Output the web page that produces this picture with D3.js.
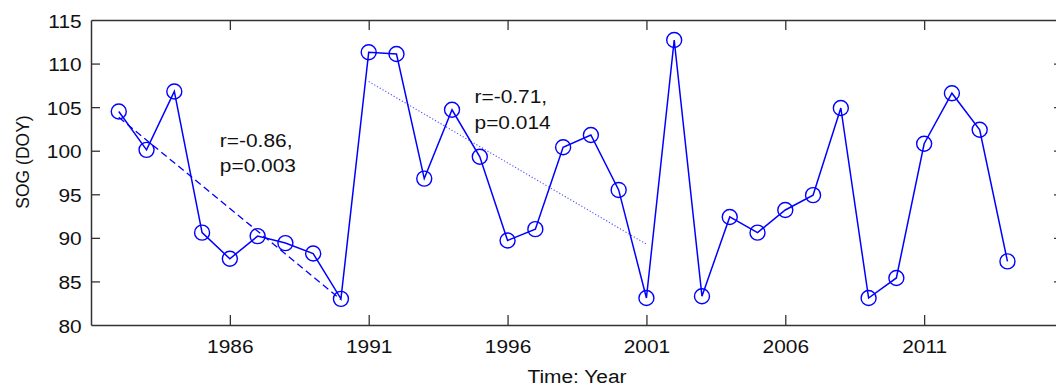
<!DOCTYPE html>
<html>
<head>
<meta charset="utf-8">
<script src="https://cdn.jsdelivr.net/npm/d3@7"></script>
<style>
  body { margin: 0; background: #fff; }
  text { font-family: "Liberation Sans", Arial, sans-serif; fill: #111; }
</style>
</head>
<body>
<div class="viz"></div>
<script>
// SOG values, one per year
const years = [1982, 1983, 1984, 1985, 1986, 1987, 1988, 1989, 1990, 1991, 1992,
               1993, 1994, 1995, 1996, 1997, 1998, 1999, 2000, 2001, 2002, 2003,
               2004, 2005, 2006, 2007, 2008, 2009, 2010, 2011, 2012, 2013, 2014];
const sog = [104.5, 100.1, 106.8, 90.6, 87.6, 90.2, 89.4, 88.2, 83.0, 111.3, 111.1,
             96.8, 104.7, 99.3, 89.7, 91.0, 100.4, 101.8, 95.5, 83.1, 112.7, 83.3,
             92.4, 90.6, 93.2, 94.9, 104.9, 83.1, 85.4, 100.8, 106.6, 102.4, 87.3];

const xTicks = [1986, 1991, 1996, 2001, 2006, 2011];
const yTicks = [80, 85, 90, 95, 100, 105, 110, 115];

// trend periods and their stats labels
const trendPeriods = [[1982, 1990], [1991, 2001]];
const trendLabels = [["r=-0.86,", "p=0.003"], ["r=-0.71,", "p=0.014"]];

const width = 1056;
const height = 387;
const margin = { top: 20, right: -7, bottom: 62, left: 91 };
const stretch = 1.1; // the picture's text is a bit wide

const svg = d3.select(".viz")
    .append("svg")
    .attr("width", width)
    .attr("height", height);

const x = d3.scaleLinear().domain([1981, 2016]).range([margin.left, width - margin.right]);
const y = d3.scaleLinear().domain([80, 115]).range([height - margin.bottom, margin.top]);

const axisColor = "#333";
const blue = "#0000ff";

function styleAxis(g) {
    g.selectAll("path, line").attr("stroke", axisColor).attr("stroke-width", 1.3);
    g.select(".domain").attr("stroke-width", 1.5);
}

// bottom + top
svg.append("g")
    .attr("transform", `translate(0,${y(80)})`)
    .call(d3.axisBottom(x).tickValues(xTicks).tickFormat(d3.format("d")).tickSize(-10).tickSizeOuter(0))
    .call(styleAxis)
    .call(g => g.selectAll("text")
        .attr("y", 28).attr("dy", 0)
        .attr("transform", `scale(${stretch},1)`)
        .style("font-size", "19px").style("fill", "#111"));

svg.append("g")
    .attr("transform", `translate(0,${y(115)})`)
    .call(d3.axisTop(x).tickValues(xTicks).tickFormat("").tickSize(-10).tickSizeOuter(0))
    .call(styleAxis);

// left + right
svg.append("g")
    .attr("transform", `translate(${x(1981)},0)`)
    .call(d3.axisLeft(y).tickValues(yTicks).tickSize(-9).tickSizeOuter(0))
    .call(styleAxis)
    .call(g => g.selectAll("text")
        .attr("x", -8.5).attr("y", 7).attr("dy", 0)
        .attr("transform", `scale(${stretch},1)`)
        .style("font-size", "19px").style("fill", "#111"));

svg.append("g")
    .attr("transform", `translate(${x(2016)},0)`)
    .call(d3.axisRight(y).tickValues(yTicks).tickFormat("").tickSize(-9).tickSizeOuter(0))
    .call(styleAxis);

svg.selectAll(".tick line").filter(function () {
    const d = d3.select(this.parentNode).datum();
    return d === 80 || d === 115;
}).remove();

// axis titles
svg.append("text")
    .attr("transform", `translate(${(x(1981) + x(2016)) / 2},383) scale(${stretch},1)`)
    .attr("text-anchor", "middle")
    .style("font-size", "19px")
    .text("Time: Year");

svg.append("text")
    .attr("transform", "translate(29,162) rotate(-90)")
    .attr("text-anchor", "middle")
    .style("font-size", "17.5px")
    .text("SOG (DOY)");

const data = years.map((yr, i) => ({ year: yr, value: sog[i] }));

// least squares fit over each period
function fit(a, b) {
    const pts = data.filter(d => d.year >= a && d.year <= b);
    const mx = d3.mean(pts, d => d.year);
    const my = d3.mean(pts, d => d.value);
    const slope = d3.sum(pts, d => (d.year - mx) * (d.value - my)) / d3.sum(pts, d => (d.year - mx) ** 2);
    return [a, b].map(t => ({ year: t, value: my + slope * (t - mx) }));
}

const line = d3.line().x(d => x(d.year)).y(d => y(d.value));

// trend lines
svg.append("path")
    .datum(fit(...trendPeriods[0]))
    .attr("d", line)
    .attr("fill", "none")
    .attr("stroke", blue)
    .attr("stroke-width", 1.3)
    .attr("stroke-dasharray", "7,4");

svg.append("path")
    .datum(fit(...trendPeriods[1]))
    .attr("d", line)
    .attr("fill", "none")
    .attr("stroke", "#4d4dff")
    .attr("stroke-width", 1.1)
    .attr("stroke-dasharray", "1.2,2");

// series
svg.append("path")
    .datum(data)
    .attr("d", line)
    .attr("fill", "none")
    .attr("stroke", blue)
    .attr("stroke-width", 1.5);

svg.selectAll(".pt")
    .data(data)
    .enter()
    .append("circle")
    .attr("class", "pt")
    .attr("cx", d => x(d.year))
    .attr("cy", d => y(d.value))
    .attr("r", 7.5)
    .attr("fill", "none")
    .attr("stroke", blue)
    .attr("stroke-width", 1.4);

// r / p labels
const labelAt = [[1985.64, 100.46], [1994.81, 105.44]];
trendLabels.forEach((lines, i) => {
    const t = svg.append("text")
        .attr("transform", `translate(${x(labelAt[i][0])},${y(labelAt[i][1])}) scale(${stretch},1)`)
        .style("font-size", "19px");
    lines.forEach((s, j) => {
        t.append("tspan").attr("x", 0).attr("dy", j === 0 ? 0 : 25.5).text(s);
    });
});
</script>
</body>
</html>
